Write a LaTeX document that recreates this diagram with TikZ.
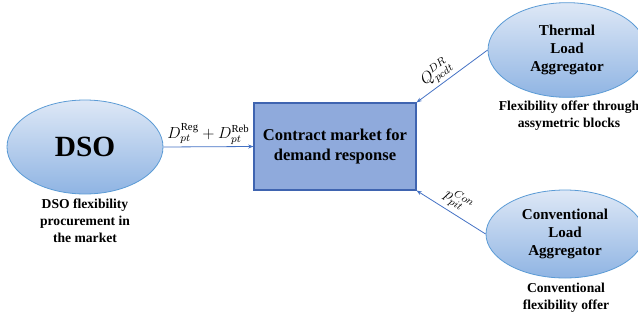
\documentclass[tikz,border=0pt]{standalone}
\usepackage{fontspec}
\setmainfont{Liberation Serif}
\usetikzlibrary{shapes.geometric,arrows.meta,calc}
\definecolor{ellTop}{RGB}{222,232,246}
\definecolor{ellBot}{RGB}{143,180,227}
\definecolor{ellLine}{RGB}{91,155,213}
\definecolor{boxFill}{RGB}{143,170,220}
\definecolor{boxLine}{RGB}{63,100,176}
\definecolor{arrowCol}{RGB}{68,114,196}
\tikzset{
  agent/.style={ellipse, draw=ellLine, line width=0.6pt, top color=ellTop, bottom color=ellBot,
    align=center, font=\bfseries, inner sep=0pt},
  marketbox/.style={rectangle, draw=boxLine, line width=0.8pt, fill=boxFill, align=center,
    font=\fontsize{12.4}{14.5}\selectfont\bfseries, inner sep=0pt},
  sublabel/.style={align=center, font=\fontsize{10.2}{12.8}\selectfont\bfseries, inner sep=0pt},
  flow/.style={draw=arrowCol, line width=0.6pt, -{Stealth[length=4pt,width=3pt]}},
  flowlabel/.style={font=\fontsize{11.5}{13}\selectfont, inner sep=1.5pt}
}
\begin{document}
\begin{tikzpicture}[x=0.75pt,y=-0.75pt]
\useasboundingbox (0,0) rectangle (638,321);
\clip (0,0) rectangle (638,321);
\node[agent, minimum width=117pt, minimum height=70.5pt, font=\fontsize{22}{26}\selectfont\bfseries] (dso) at (85,147) {DSO};
\node[agent, minimum width=118.5pt, minimum height=71pt, font=\fontsize{11.3}{13.7}\selectfont\bfseries] (thermal) at (567,50) {Thermal\\Load\\Aggregator};
\node[agent, minimum width=118.5pt, minimum height=66pt, font=\fontsize{11.3}{13.7}\selectfont\bfseries] (conv) at (565,234) {Conventional\\Load\\Aggregator};
\node[marketbox, minimum width=121.5pt, minimum height=65.25pt] (market) at (335,146.5) {Contract market for\\demand response};
\node[sublabel] (dsolab) at (85,221) {DSO flexibility\\procurement in\\the market};
\node[sublabel] (thermallab) at (569,116) {Flexibility offer through\\assymetric blocks};
\node[sublabel] (convlab) at (566,298) {Conventional\\flexibility offer};
\draw[flow] (dso.east) -- node[above, flowlabel] {$D_{pt}^{\mathrm{Reg}}+D_{pt}^{\mathrm{Reb}}$} (market.west);
\draw[flow] (thermal.west) -- node[sloped, above, flowlabel, pos=0.62] {$Q_{pcdt}^{DR}$} (market.north east);
\draw[flow] (conv.west) -- node[sloped, above, flowlabel, pos=0.5, yshift=1pt] {$p_{pit}^{Con}$} (market.south east);
\end{tikzpicture}
\end{document}
